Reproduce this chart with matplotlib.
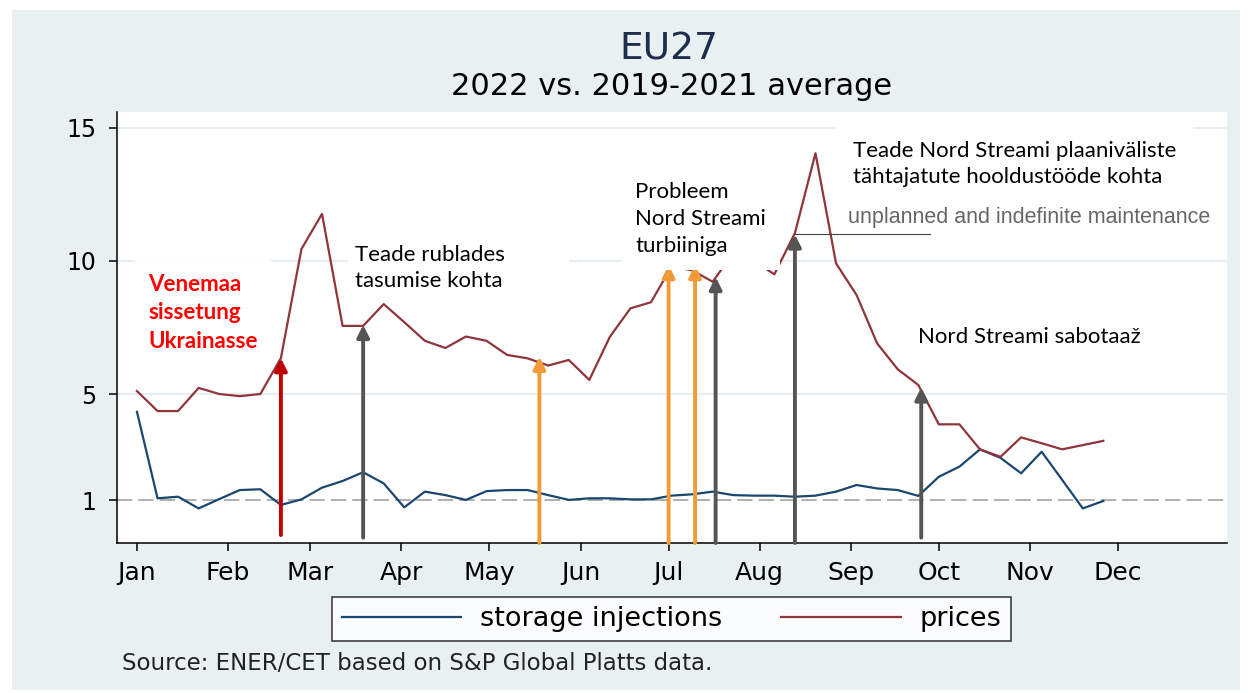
import numpy as np
import pandas as pd
import matplotlib
matplotlib.use('Agg')
from matplotlib import pyplot as plt
import matplotlib.dates as mdates
from matplotlib.patches import Rectangle

# weekly data, 2022 vs 2019-2021 average
weeks = pd.date_range('2022-01-01', periods=48, freq='7D')
storage = [4.33, 1.08, 1.14, 0.70, 1.05, 1.39, 1.42, 0.83, 1.04, 1.48, 1.73, 2.06,
           1.64, 0.74, 1.33, 1.20, 1.02, 1.35, 1.39, 1.39, 1.20, 1.02, 1.08, 1.08,
           1.04, 1.04, 1.18, 1.23, 1.33, 1.20, 1.18, 1.18, 1.14, 1.18, 1.33, 1.58,
           1.45, 1.39, 1.17, 1.89, 2.27, 2.92, 2.60, 2.02, 2.83, 1.77, 0.70, 0.98]
prices = [5.11, 4.36, 4.36, 5.23, 5.00, 4.92, 5.00, 6.35, 10.45, 11.77, 7.56, 7.56,
          8.38, 7.70, 7.00, 6.73, 7.16, 7.00, 6.47, 6.34, 6.07, 6.28, 5.53, 7.15,
          8.22, 8.45, 9.79, 9.65, 9.22, 10.30, 10.00, 9.50, 11.05, 14.05, 9.91, 8.72,
          6.90, 5.93, 5.34, 3.86, 3.86, 2.92, 2.64, 3.37, 3.15, 2.92, 3.08, 3.24]

month_starts = pd.date_range('2022-01-01', periods=12, freq='MS')
month_labels = ['Jan', 'Feb', 'Mar', 'Apr', 'May', 'Jun',
                'Jul', 'Aug', 'Sep', 'Oct', 'Nov', 'Dec']
yticks = [1, 5, 10, 15]

# event arrows
arrow_dates = pd.to_datetime(['2022-02-19', '2022-03-19', '2022-05-18', '2022-07-01',
                              '2022-07-10', '2022-07-17', '2022-08-13', '2022-09-25'])
arrow_tops = [6.35, 7.6, 6.4, 9.85, 9.85, 9.4, 11.0, 5.25]
arrow_bottoms = [-0.3, -0.4, -0.6, -0.6, -0.6, -0.6, -0.6, -0.4]
arrow_colors = ['#c00000', '#555555', '#f09a38', '#f09a38',
                '#f09a38', '#555555', '#555555', '#555555']

W, H = 1248, 693
fig = plt.figure(figsize=(W / 100, H / 100), dpi=100)
fig.patch.set_facecolor('white')
fig.patches.append(Rectangle((12 / W, 1 - 690 / H), (1240 - 12) / W, 680 / H,
                             transform=fig.transFigure, facecolor='#e8f0f2',
                             edgecolor='none', zorder=-10))

ax = fig.add_axes([117 / W, 1 - 543 / H, (1227 - 117) / W, (543 - 112) / H])
ax.set_facecolor('white')

x0 = mdates.date2num(pd.Timestamp('2022-01-01'))
ax.set_xlim(x0 - 6.8, x0 + 371.1)
ax.set_ylim(-0.6, 15.6)

for v in [5, 10, 15]:
    ax.axhline(v, color='#e6eef1', lw=1.6, zorder=0)
ax.axhline(1, color='#9a9a9a', lw=1.1, ls=(0, (10, 4)), zorder=1)

ax.plot(weeks, storage, color='#1a476f', lw=1.6, zorder=3, label='storage injections')
ax.plot(weeks, prices, color='#90353b', lw=1.6, zorder=3, label='prices')

for d, top, bot, c in zip(arrow_dates, arrow_tops, arrow_bottoms, arrow_colors):
    xd = mdates.date2num(d)
    ax.annotate('', xy=(xd, top), xytext=(xd, bot),
                arrowprops=dict(arrowstyle='-|>', color=c, lw=2.8,
                                mutation_scale=18, shrinkA=0, shrinkB=0),
                zorder=4)

# leftover underline next to the August arrow
ax.plot([mdates.date2num(arrow_dates[6]), x0 + 270], [11.0, 11.0],
        color='#444444', lw=0.8, zorder=4)

ax.set_xticks(mdates.date2num(month_starts))
ax.set_xticklabels(month_labels)
ax.set_yticks(yticks)
ax.tick_params(axis='both', direction='out', length=6, width=1.1, color='black')
ax.tick_params(axis='x', labelsize=18, pad=7)
ax.tick_params(axis='y', labelsize=17, pad=9)
for s in ['top', 'right']:
    ax.spines[s].set_visible(False)
for s in ['left', 'bottom']:
    ax.spines[s].set_linewidth(1.1)
    ax.spines[s].set_color('black')

# titles
fig.text(669 / W, 1 - 59 / H, 'EU27', ha='center', va='baseline',
         fontsize=27, color='#1e2d4e')
fig.text(672 / W, 1 - 95 / H, '2022 vs. 2019-2021 average', ha='center',
         va='baseline', fontsize=22, color='black')

# legend
leg = fig.legend(loc='center', bbox_to_anchor=(671.5 / W, 1 - 619 / H), ncol=2,
                 fontsize=19.5, frameon=True, fancybox=False, handlelength=4.4,
                 handletextpad=0.7, columnspacing=2.2, borderpad=0.35)
leg.get_frame().set_edgecolor('black')
leg.get_frame().set_linewidth(1.1)
for line in leg.get_lines():
    line.set_linewidth(1.6)

fig.text(122 / W, 1 - 670 / H, 'Source: ENER/CET based on S&P Global Platts data.',
         ha='left', va='baseline', fontsize=16.5, color='#222222')

# annotations pasted on top of the chart (y = baseline of the last line)
ann = dict(family='Lato', fontsize=16, color='black', ha='left', va='baseline')
white = dict(facecolor='white', edgecolor='none', boxstyle='square,pad=0.5')

fig.text(148 / W, 1 - 348 / H, 'Venemaa\nsissetung\nUkrainasse',
         fontweight='bold', linespacing=1.45,
         bbox=dict(white, boxstyle='square,pad=0.6'), **dict(ann, color='#ff0000'))
fig.text(355 / W, 1 - 287 / H, 'Teade rublades          \ntasumise kohta',
         linespacing=1.4, bbox=dict(white, boxstyle='square,pad=0.3'), **ann)
fig.text(635 / W, 1 - 252 / H, 'Probleem\nNord Streami\nturbiiniga',
         linespacing=1.45, bbox=dict(white, boxstyle='square,pad=0.62'), **ann)
fig.text(853 / W, 1 - 183 / H, 'Teade Nord Streami plaaniväliste\ntähtajatute hooldustööde kohta',
         linespacing=1.4, bbox=dict(white, boxstyle='square,pad=0.75'), **ann)
fig.text(848 / W, 1 - 223 / H, 'unplanned and indefinite maintenance',
         family='Liberation Sans', fontsize=15.5, color='#666666',
         ha='left', va='baseline',
         bbox=dict(white, boxstyle='square,pad=0.15'))
fig.text(918 / W, 1 - 343 / H, 'Nord Streami sabotaaž',
         bbox=dict(white, boxstyle='square,pad=0.4'), **ann)

fig.savefig('out.png', dpi=100)
